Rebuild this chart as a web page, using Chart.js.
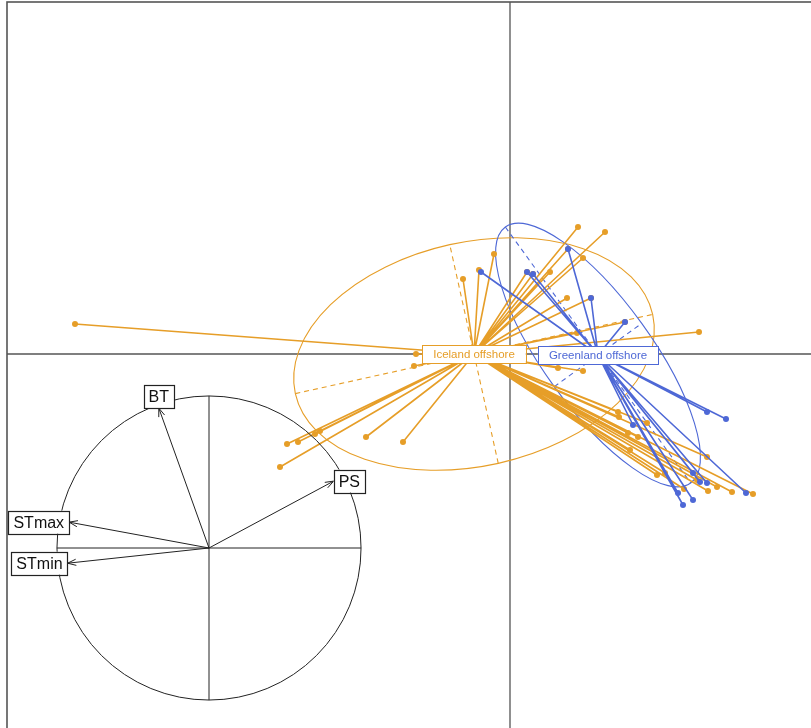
<!DOCTYPE html>
<html>
<head>
<meta charset="utf-8">
<script src="https://cdn.jsdelivr.net/npm/chart.js@4.4.1/dist/chart.umd.min.js"></script>
<style>
html, body { margin: 0; padding: 0; overflow: hidden; background: #fff; }
#wrap { position: relative; width: 811px; height: 728px; overflow: hidden; }
#main { position: absolute; left: 0; top: 0; }
#cercle { position: absolute; left: 1px; top: 340px; pointer-events: none; }
</style>
</head>
<body>
<div id="wrap">
<canvas id="main" width="811" height="728"></canvas>
<canvas id="cercle" width="416" height="416"></canvas>
</div>
<script>
// Grups (classes) del s.class
const grups = ['Iceland offshore', 'Greenland offshore'];
const colors = ['rgb(230,158,40)', 'rgb(78,104,214)'];

// Coordenades de les estacions (eixos 1 i 2)
const icelandX = [-4.35, -0.94, -0.96, -0.47, -0.31, -0.16, 0.17, 0.23, 0.40, 0.58, 0.68, 0.95, 0.73, 0.57, 0.81,
  1.15, 1.89, 0.67, 0.48, 0.73, -2.23, -2.12, -1.90, -1.95, -1.44, -1.07, -2.30,
  1.08, 1.09, 1.37, 1.18, 1.28, 1.20, 1.97, 1.47, 1.55, 1.74, 1.87, 1.98, 2.07, 2.22, 2.43];
const icelandY = [0.30, 0.00, -0.12, 0.75, 0.84, 1.00, 0.82, 0.80, 0.82, 1.05, 1.27, 1.22, 0.96, 0.56, 0.56,
  0.32, 0.22, 0.21, -0.14, -0.17, -0.90, -0.88, -0.77, -0.80, -0.83, -0.88, -1.13,
  -0.58, -0.63, -0.69, -0.79, -0.83, -0.96, -1.03, -1.21, -1.19, -1.35, -1.26, -1.37, -1.33, -1.38, -1.40];

const greenlandX = [-0.29, 0.17, 0.23, 0.58, 0.81, 1.15, 1.97, 2.16, 1.23, 1.83, 1.90, 1.97, 2.36, 1.68, 1.83, 1.73];
const greenlandY = [0.82, 0.82, 0.80, 1.05, 0.56, 0.32, -0.58, -0.65, -0.71, -1.19, -1.28, -1.29, -1.39, -1.39, -1.46, -1.51];

// Centres de grup
const centresX = [-0.36, 0.88];
const centresY = [0.00, -0.01];

// El·lipses d'inèrcia: semieix major, semieix menor, angle (graus)
const elA = [1.83, 1.58];
const elB = [1.12, 0.54];
const elAngle = [12.5, -54.1];

// Cercle de correlacions
const variables = ['BT', 'PS', 'STmax', 'STmin'];
const varX = [-0.33, 0.82, -0.92, -0.93];
const varY = [0.92, 0.44, 0.17, -0.10];

const fontBase = '"Liberation Sans", Arial, Helvetica, sans-serif';

// Construeix les línies de l'estrella (punt -> centre), separades per buits
function estrella(xs, ys, cx, cy) {
  let d = [];
  xs.forEach((x, i) => {
    d.push({x: cx, y: cy});
    d.push({x: x, y: ys[i]});
    d.push({x: x, y: null});
  });
  return d;
}

function punts(xs, ys) {
  return xs.map((x, i) => ({x: x, y: ys[i]}));
}

// Marc i eixos del gràfic principal
const pluginEixos = {
  id: 'eixos',
  beforeDatasetsDraw(chart) {
    const ctx = chart.ctx, sx = chart.scales.x, sy = chart.scales.y;
    const x0 = sx.getPixelForValue(0), y0 = sy.getPixelForValue(0);
    const fx = sx.getPixelForValue(-5.03), fy = sy.getPixelForValue(3.52);
    ctx.save();
    ctx.strokeStyle = '#555';
    ctx.lineWidth = 1.3;
    ctx.beginPath();
    ctx.moveTo(fx, y0); ctx.lineTo(sx.right, y0);
    ctx.moveTo(x0, fy); ctx.lineTo(x0, sy.bottom);
    ctx.stroke();
    // marc
    ctx.lineWidth = 1.6;
    ctx.strokeRect(fx, fy, sx.right + 10 - fx, sy.bottom + 10 - fy);
    ctx.restore();

    // el·lipses i els seus eixos
    const u = sx.getPixelForValue(1) - sx.getPixelForValue(0);
    grups.forEach((g, k) => {
      const cx = sx.getPixelForValue(centresX[k]), cy = sy.getPixelForValue(centresY[k]);
      const ang = elAngle[k] * Math.PI / 180;
      ctx.save();
      ctx.strokeStyle = colors[k];
      ctx.lineWidth = 1.1;
      ctx.beginPath();
      ctx.ellipse(cx, cy, elA[k] * u, elB[k] * u, -ang, 0, 2 * Math.PI);
      ctx.stroke();
      ctx.setLineDash([5, 4]);
      ctx.beginPath();
      const ax = Math.cos(ang), ay = Math.sin(ang);
      ctx.moveTo(sx.getPixelForValue(centresX[k] - elA[k] * ax), sy.getPixelForValue(centresY[k] - elA[k] * ay));
      ctx.lineTo(sx.getPixelForValue(centresX[k] + elA[k] * ax), sy.getPixelForValue(centresY[k] + elA[k] * ay));
      ctx.moveTo(sx.getPixelForValue(centresX[k] + elB[k] * ay), sy.getPixelForValue(centresY[k] - elB[k] * ax));
      ctx.lineTo(sx.getPixelForValue(centresX[k] - elB[k] * ay), sy.getPixelForValue(centresY[k] + elB[k] * ax));
      ctx.stroke();
      ctx.restore();
    });
  },
  afterDatasetsDraw(chart) {
    // etiquetes dels grups al centre
    const ctx = chart.ctx, sx = chart.scales.x, sy = chart.scales.y;
    ctx.save();
    ctx.font = '11.5px ' + fontBase;
    ctx.textAlign = 'center';
    ctx.textBaseline = 'middle';
    grups.forEach((g, k) => {
      const cx = sx.getPixelForValue(centresX[k]), cy = sy.getPixelForValue(centresY[k]);
      const w = ctx.measureText(g).width + 22, h = 18;
      ctx.fillStyle = '#fff';
      ctx.fillRect(cx - w / 2, cy - h / 2, w, h);
      ctx.strokeStyle = colors[k];
      ctx.lineWidth = 1;
      ctx.strokeRect(Math.round(cx - w / 2) + 0.5, Math.round(cy - h / 2) + 0.5, Math.round(w), h);
      ctx.fillStyle = colors[k];
      ctx.fillText(g, cx, cy + 0.5);
    });
    ctx.restore();
  }
};

new Chart(document.getElementById('main'), {
  type: 'scatter',
  data: {
    datasets: [
      { type: 'line', data: estrella(greenlandX, greenlandY, centresX[1], centresY[1]), borderColor: colors[1], borderWidth: 1.6, pointRadius: 0, spanGaps: false },
      { type: 'scatter', data: punts(greenlandX, greenlandY), backgroundColor: colors[1], borderWidth: 0, pointRadius: 3 },
      { type: 'line', data: estrella(icelandX, icelandY, centresX[0], centresY[0]), borderColor: colors[0], borderWidth: 1.6, pointRadius: 0, spanGaps: false },
      { type: 'scatter', data: punts(icelandX, icelandY), backgroundColor: colors[0], borderWidth: 0, pointRadius: 3 }
    ]
  },
  options: {
    responsive: false,
    animation: false,
    devicePixelRatio: 1,
    events: [],
    layout: { padding: 0, autoPadding: false },
    plugins: { legend: { display: false }, tooltip: { enabled: false } },
    scales: {
      x: { type: 'linear', min: -5.10, max: 3.01, display: false },
      y: { type: 'linear', min: -3.74, max: 3.54, display: false }
    }
  },
  plugins: [pluginEixos]
});

// Cercle de correlacions (inset)
function fletxes() {
  let d = [];
  variables.forEach((v, i) => {
    d.push({x: 0, y: 0});
    d.push({x: varX[i], y: varY[i]});
    d.push({x: varX[i], y: null});
  });
  return d;
}

const pluginCercle = {
  id: 'cercle',
  beforeDatasetsDraw(chart) {
    const ctx = chart.ctx, sx = chart.scales.x, sy = chart.scales.y;
    const cx = sx.getPixelForValue(0), cy = sy.getPixelForValue(0);
    const r = sx.getPixelForValue(1) - cx;
    ctx.save();
    ctx.strokeStyle = '#222';
    ctx.lineWidth = 1;
    ctx.beginPath();
    ctx.arc(cx, cy, r, 0, 2 * Math.PI);
    ctx.moveTo(cx - r, cy); ctx.lineTo(cx + r, cy);
    ctx.moveTo(cx, cy - r); ctx.lineTo(cx, cy + r);
    ctx.stroke();
    ctx.restore();
  },
  afterDatasetsDraw(chart) {
    const ctx = chart.ctx, sx = chart.scales.x, sy = chart.scales.y;
    const cx = sx.getPixelForValue(0), cy = sy.getPixelForValue(0);
    ctx.save();
    ctx.font = '16px ' + fontBase;
    ctx.textAlign = 'center';
    ctx.textBaseline = 'middle';
    variables.forEach((v, i) => {
      const tx = sx.getPixelForValue(varX[i]), ty = sy.getPixelForValue(varY[i]);
      // punta de fletxa
      const a = Math.atan2(ty - cy, tx - cx);
      ctx.strokeStyle = '#222';
      ctx.lineWidth = 1;
      ctx.beginPath();
      ctx.moveTo(tx - 9 * Math.cos(a - 0.35), ty - 9 * Math.sin(a - 0.35));
      ctx.lineTo(tx, ty);
      ctx.lineTo(tx - 9 * Math.cos(a + 0.35), ty - 9 * Math.sin(a + 0.35));
      ctx.stroke();
      // etiqueta enganxada a la punta
      const w = ctx.measureText(v).width + 10, h = 23;
      let lx = tx, ly = ty;
      if (Math.abs(tx - cx) > Math.abs(ty - cy)) lx = tx + Math.sign(tx - cx) * w / 2;
      else ly = ty + Math.sign(ty - cy) * h / 2;
      ctx.fillStyle = '#fff';
      ctx.fillRect(lx - w / 2, ly - h / 2, w, h);
      ctx.lineWidth = 1.2;
      ctx.strokeRect(Math.round(lx - w / 2) + 0.5, Math.round(ly - h / 2) + 0.5, Math.round(w), h);
      ctx.fillStyle = '#111';
      ctx.fillText(v, lx, ly + 1);
    });
    ctx.restore();
  }
};

new Chart(document.getElementById('cercle'), {
  type: 'scatter',
  data: {
    datasets: [
      { type: 'line', data: fletxes(), borderColor: '#222', borderWidth: 1, pointRadius: 0, spanGaps: false }
    ]
  },
  options: {
    responsive: false,
    animation: false,
    devicePixelRatio: 1,
    events: [],
    layout: { padding: 0, autoPadding: false },
    plugins: { legend: { display: false }, tooltip: { enabled: false } },
    scales: {
      x: { type: 'linear', min: -1.368, max: 1.368, display: false },
      y: { type: 'linear', min: -1.368, max: 1.368, display: false }
    }
  },
  plugins: [pluginCercle]
});
</script>
</body>
</html>
